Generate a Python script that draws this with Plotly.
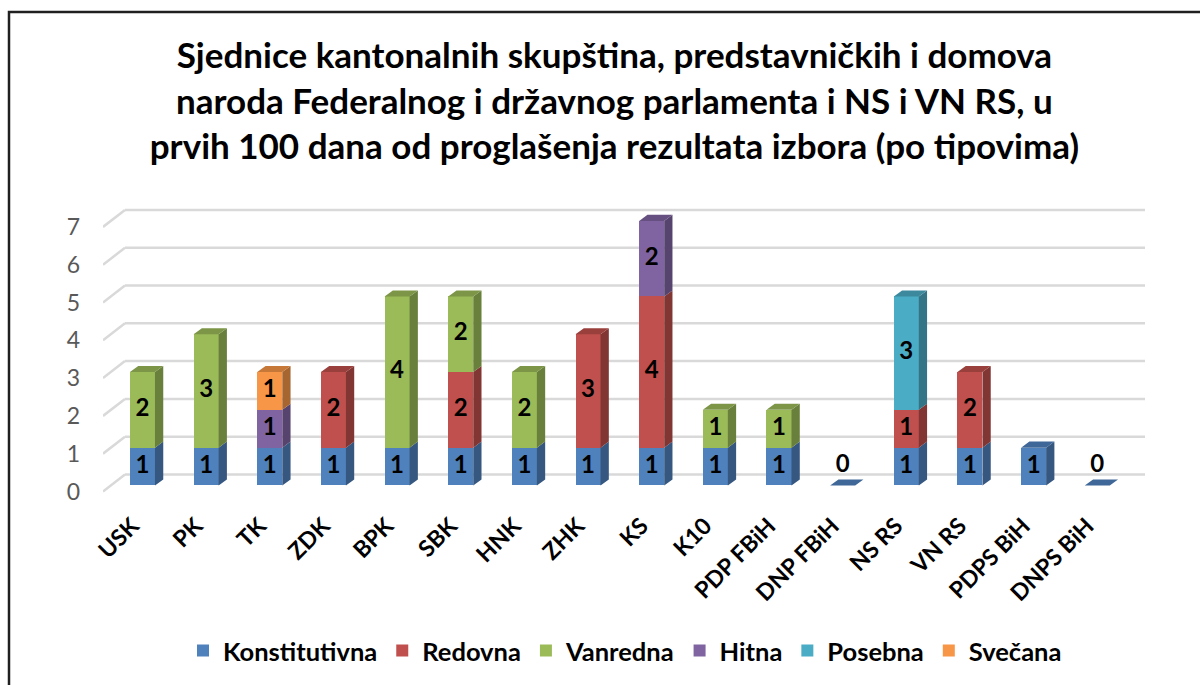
import plotly.graph_objects as go

# ---------------- data ----------------
categories = ["USK", "PK", "TK", "ZDK", "BPK", "SBK", "HNK", "ZHK", "KS", "K10",
              "PDP FBiH", "DNP FBiH", "NS RS", "VN RS", "PDPS BiH", "DNPS BiH"]
konstitutivna = [1, 1, 1, 1, 1, 1, 1, 1, 1, 1, 1, 0, 1, 1, 1, 0]
redovna       = [0, 0, 0, 2, 0, 2, 0, 3, 4, 0, 0, 0, 1, 2, 0, 0]
vanredna      = [2, 3, 0, 0, 4, 2, 2, 0, 0, 1, 1, 0, 0, 0, 0, 0]
hitna         = [0, 0, 1, 0, 0, 0, 0, 0, 2, 0, 0, 0, 0, 0, 0, 0]
posebna       = [0, 0, 0, 0, 0, 0, 0, 0, 0, 0, 0, 0, 3, 0, 0, 0]
svecana       = [0, 0, 1, 0, 0, 0, 0, 0, 0, 0, 0, 0, 0, 0, 0, 0]
y_ticks = [0, 1, 2, 3, 4, 5, 6, 7]

series_names = ["Konstitutivna", "Redovna", "Vanredna", "Hitna", "Posebna", "Svečana"]
series_vals = [konstitutivna, redovna, vanredna, hitna, posebna, svecana]
colors = ["#4F81BD", "#C0504D", "#9BBB59", "#8064A2", "#4BACC6", "#F79646"]

title_text = ("Sjednice kantonalnih skupština, predstavničkih i domova<br>"
              "naroda Federalnog i državnog parlamenta i NS i VN RS, u<br>"
              "prvih 100 dana od proglašenja rezultata izbora (po tipovima)")

# ---------------- geometry / style ----------------
W, H = 1200, 685
X_RANGE = [-0.62, 15.75]
Y_RANGE = [-0.2, 7.5]
ML, MR, MT, MB = 103, 55, 202, 192
BAR_W = 0.393
DX, DY = 0.13, 0.16          # depth offset of the 3D faces (axis units)
WALL_DX, WALL_DY = 0.345, 0.45  # back wall offset for gridlines
FRONT_DY = -0.16             # front floor edge offset
LABEL_DX = -0.16             # category label shift
FONT = "Lato"


def shade(hex_color, f):
    h = hex_color.lstrip("#")
    r, g, b = (int(h[i:i + 2], 16) for i in (0, 2, 4))
    return "#%02x%02x%02x" % (int(r * f), int(g * f), int(b * f))


n = len(categories)
xs = list(range(n))
fig = go.Figure()

# front faces (stacked bars)
for name, vals, col in zip(series_names, series_vals, colors):
    fig.add_trace(go.Bar(
        x=xs, y=vals, name=name, width=BAR_W,
        marker=dict(color=col, line=dict(width=0)),
        hoverinfo="skip",
    ))

# side and top faces computed from the stacked data
totals = [sum(s[i] for s in series_vals) for i in range(n)]
base = [0] * n
top_series = [None] * n
for si, vals in enumerate(series_vals):
    for i in range(n):
        if vals[i] > 0:
            top_series[i] = si

for si, (vals, col) in enumerate(zip(series_vals, colors)):
    sx, sy, tx, ty = [], [], [], []
    for i in range(n):
        b0 = base[i]
        v = vals[i]
        x1 = i + BAR_W / 2
        x0 = i - BAR_W / 2
        if v > 0:
            sx += [x1, x1 + DX, x1 + DX, x1, x1, None]
            sy += [b0, b0 + DY, b0 + v + DY, b0 + v, b0, None]
            if top_series[i] == si:
                t = b0 + v
                tx += [x0, x1, x1 + DX, x0 + DX, x0, None]
                ty += [t, t, t + DY, t + DY, t, None]
        elif si == 0 and totals[i] == 0:
            tx += [x0, x1, x1 + DX, x0 + DX, x0, None]
            ty += [0, 0, DY, DY, 0, None]
        base[i] = b0 + v
    if sx:
        fig.add_trace(go.Scatter(x=sx, y=sy, mode="lines", fill="toself",
                                 fillcolor=shade(col, 0.68), line=dict(width=0),
                                 showlegend=False, hoverinfo="skip"))
    if tx:
        fig.add_trace(go.Scatter(x=tx, y=ty, mode="lines", fill="toself",
                                 fillcolor=shade(col, 0.8), line=dict(width=0),
                                 showlegend=False, hoverinfo="skip"))

# data labels
lx, ly, lt = [], [], []
base = [0] * n
for vals in series_vals:
    for i in range(n):
        if vals[i] > 0:
            lx.append(i)
            ly.append(base[i] + vals[i] / 2)
            lt.append(str(vals[i]))
        base[i] += vals[i]
for i in range(n):
    if totals[i] == 0:
        lx.append(i)
        ly.append(0.52)
        lt.append("0")
fig.add_trace(go.Scatter(x=lx, y=ly, text=lt, mode="text",
                         textfont=dict(family=FONT, size=24, color="#000000", weight="bold"),
                         textposition="middle center",
                         showlegend=False, hoverinfo="skip"))

# gridlines on the back wall + left diagonal wall edges
shapes = []
for v in y_ticks:
    shapes.append(dict(type="line", xref="x", yref="y", layer="below",
                       x0=X_RANGE[0] + WALL_DX, x1=X_RANGE[1],
                       y0=v + FRONT_DY + WALL_DY, y1=v + FRONT_DY + WALL_DY,
                       line=dict(color="#D9D9D9", width=2.5)))
    shapes.append(dict(type="line", xref="x", yref="y", layer="below",
                       x0=X_RANGE[0], x1=X_RANGE[0] + WALL_DX,
                       y0=v + FRONT_DY, y1=v + FRONT_DY + WALL_DY,
                       line=dict(color="#D9D9D9", width=2.5)))

# outer frame of the chart
pw = W - ML - MR
ph = H - MT - MB
def px_x(p):
    return (p - ML) / pw
def px_y(p):
    return (H - MB - p) / ph
shapes.append(dict(type="rect", xref="paper", yref="paper", layer="above",
                   x0=px_x(9), x1=px_x(1215), y0=px_y(12), y1=px_y(700),
                   line=dict(color="#202020", width=2.5), fillcolor="rgba(0,0,0,0)"))

fig.update_layout(
    width=W, height=H,
    barmode="stack",
    bargap=0,
    paper_bgcolor="white", plot_bgcolor="white",
    margin=dict(l=ML, r=MR, t=MT, b=MB, autoexpand=False),
    title=dict(text=title_text, x=0.512, xanchor="center",
               y=1 - 68 / H, yanchor="top", yref="container",
               font=dict(family=FONT, size=35, color="#000000", weight="bold")),
    xaxis=dict(range=X_RANGE, tickmode="array",
               tickvals=[i + LABEL_DX for i in xs], ticktext=categories,
               tickangle=-45, showgrid=False, zeroline=False, showline=False,
               ticks="", ticklabelstandoff=14, automargin=False,
               tickfont=dict(family=FONT, size=23, color="#000000", weight="bold")),
    yaxis=dict(range=Y_RANGE, tickmode="array",
               tickvals=[v + FRONT_DY for v in y_ticks],
               ticktext=[str(v) for v in y_ticks],
               showgrid=False, zeroline=False, showline=False, ticks="",
               ticklabelstandoff=22, automargin=False,
               tickfont=dict(family=FONT, size=23, color="#595959")),
    legend=dict(orientation="h", x=625 / W, xanchor="center", xref="container",
                y=1 - 651 / H, yanchor="middle", yref="container",
                font=dict(family=FONT, size=25.5, color="#000000", weight="bold"),
                traceorder="normal", itemclick=False, itemdoubleclick=False),
    shapes=shapes,
    showlegend=True,
)

fig.write_html("out.html", config={"displayModeBar": False},
               post_script="document.body.style.margin='0';")
